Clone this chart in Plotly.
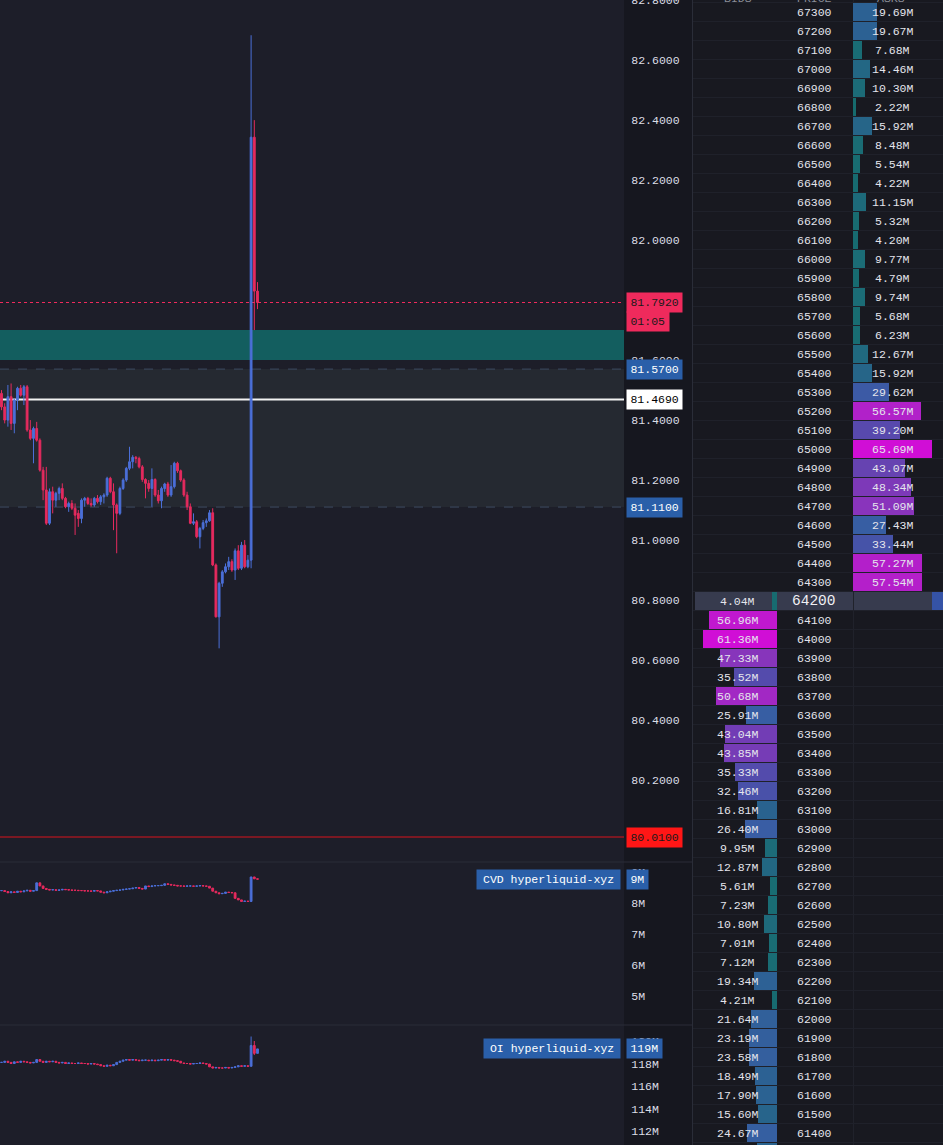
import plotly.graph_objects as go

W, H = 943, 1145
MONO = "Liberation Mono"

# ---------------- main price candles ----------------
price_open = [81.489, 81.444, 81.400, 81.478, 81.389, 81.467, 81.506, 81.483, 81.511, 81.367,
              81.339, 81.372, 81.333, 81.233, 81.167, 81.056, 81.161, 81.133, 81.156, 81.172,
              81.139, 81.111, 81.122, 81.106, 81.089, 81.072, 81.133, 81.139, 81.122, 81.117,
              81.139, 81.128, 81.144, 81.150, 81.206, 81.161, 81.117, 81.089, 81.172, 81.200,
              81.239, 81.261, 81.276, 81.272, 81.244, 81.202, 81.189, 81.172, 81.202, 81.150,
              81.131, 81.172, 81.187, 81.150, 81.178, 81.256, 81.231, 81.200, 81.150, 81.111,
              81.056, 81.061, 81.011, 81.039, 81.058, 81.064, 81.091, 80.917, 80.744,
              80.856, 80.894, 80.911, 80.928, 80.900, 80.964, 80.906, 80.983, 80.911,
              80.933, 82.343, 81.830]
price_high = [81.500, 81.456, 81.517, 81.522, 81.472, 81.511, 81.517, 81.517, 81.517, 81.400,
              81.378, 81.394, 81.339, 81.244, 81.244, 81.172, 81.178, 81.161, 81.178, 81.189,
              81.144, 81.128, 81.133, 81.122, 81.100, 81.139, 81.144, 81.144, 81.139, 81.144,
              81.150, 81.150, 81.156, 81.211, 81.211, 81.189, 81.122, 81.178, 81.206, 81.244,
              81.311, 81.283, 81.280, 81.278, 81.250, 81.206, 81.200, 81.239, 81.206, 81.167,
              81.178, 81.191, 81.194, 81.250, 81.261, 81.261, 81.235, 81.206, 81.161, 81.122,
              81.089, 81.067, 81.044, 81.067, 81.072, 81.100, 81.106, 80.922, 80.861,
              80.900, 80.922, 80.944, 80.936, 80.972, 80.983, 80.994, 81.000, 80.950,
              82.683, 82.400, 81.860]
price_low = [81.433, 81.389, 81.378, 81.367, 81.356, 81.433, 81.478, 81.450, 81.361, 81.333,
             81.256, 81.328, 81.228, 81.133, 81.050, 81.050, 81.089, 81.111, 81.133, 81.133,
             81.106, 81.094, 81.100, 81.017, 81.044, 81.056, 81.111, 81.117, 81.111, 81.111,
             81.122, 81.117, 81.122, 81.144, 81.156, 81.033, 80.956, 81.083, 81.167, 81.194,
             81.233, 81.239, 81.256, 81.239, 81.194, 81.139, 81.161, 81.111, 81.144, 81.122,
             81.106, 81.161, 81.144, 81.144, 81.172, 81.224, 81.194, 81.144, 81.100, 81.053,
             81.050, 81.006, 80.972, 81.033, 81.044, 81.061, 80.913, 80.742, 80.639,
             80.844, 80.889, 80.900, 80.894, 80.867, 80.900, 80.900, 80.906, 80.906,
             80.906, 81.700, 81.770]
price_close = [81.444, 81.400, 81.478, 81.389, 81.467, 81.506, 81.483, 81.511, 81.367, 81.339,
               81.372, 81.333, 81.233, 81.167, 81.056, 81.161, 81.133, 81.156, 81.172, 81.139,
               81.111, 81.122, 81.106, 81.083, 81.072, 81.133, 81.139, 81.122, 81.117, 81.139,
               81.128, 81.144, 81.150, 81.206, 81.161, 81.117, 81.089, 81.172, 81.200, 81.239,
               81.261, 81.276, 81.272, 81.244, 81.202, 81.189, 81.172, 81.202, 81.150, 81.131,
               81.172, 81.187, 81.150, 81.178, 81.256, 81.231, 81.200, 81.150, 81.111, 81.056,
               81.061, 81.011, 81.039, 81.058, 81.064, 81.091, 80.917, 80.744, 80.856,
               80.894, 80.911, 80.928, 80.900, 80.964, 80.906, 80.983, 80.911, 80.933,
               82.343, 81.830, 81.792]

# ---------------- CVD / OI (millions) ----------------
cvd_close = [8.40, 8.37, 8.33, 8.36, 8.34, 8.38, 8.36, 8.39, 8.41, 8.38, 8.40,
             8.65, 8.55, 8.47,
             8.44, 8.42, 8.43, 8.41, 8.42, 8.44, 8.43, 8.42, 8.41, 8.41, 8.40, 8.40, 8.39, 8.39, 8.38, 8.40, 8.39,
             8.35, 8.33, 8.36,
             8.38, 8.40, 8.41, 8.42, 8.44, 8.45, 8.46, 8.48, 8.50, 8.47,
             8.45, 8.55, 8.53,
             8.55, 8.56, 8.56, 8.57, 8.62, 8.60, 8.58, 8.57, 8.55, 8.55, 8.54, 8.55, 8.55, 8.54, 8.55, 8.56, 8.55, 8.54,
             8.48, 8.38, 8.33,
             8.30, 8.31, 8.35, 8.34, 8.33,
             8.15, 8.10, 8.05, 8.06, 8.05,
             8.84, 8.78, 8.77]
oi_close = [118.10, 118.20, 118.10, 118.00, 118.15, 118.10, 118.20, 118.15, 118.10, 118.05,
            118.10, 118.35, 118.20, 118.10, 118.20, 118.15, 118.20, 118.10, 118.05, 118.10,
            118.00, 118.05, 118.00, 118.00, 118.05, 118.00, 118.00, 117.95, 118.00, 117.95,
            117.90, 117.80, 117.75, 117.85, 117.80, 117.90,
            118.10, 118.20, 118.30, 118.35, 118.30, 118.35, 118.30, 118.25, 118.30, 118.30,
            118.25, 118.30, 118.25, 118.30, 118.35, 118.30, 118.35, 118.30, 118.25, 118.20,
            118.05, 118.00, 118.00, 117.95, 118.00, 118.00, 118.05, 118.00, 117.95,
            117.70, 117.60, 117.65, 117.60, 117.60, 117.65, 117.60, 117.65, 117.70, 117.80, 117.75, 117.80, 117.75,
            119.60, 118.90, 119.30]
oi_wicks = {78: (120.40, 117.75), 79: (120.00, 118.75)}

price_ticks = [80.0, 80.2, 80.4, 80.6, 80.8, 81.0, 81.2, 81.4, 81.6, 81.8, 82.0, 82.2, 82.4, 82.6, 82.8]
cvd_ticks = [5, 6, 7, 8, 9]
oi_ticks = [112, 114, 116, 118, 120]

teal_zone = (81.60, 81.70)
value_area = (81.11, 81.57)
poc_price = 81.469
stop_price = 80.01
countdown = "01:05"
cvd_name = "CVD hyperliquid-xyz"
oi_name = "OI hyperliquid-xyz"

# ---------------- order book ----------------
ask_prices = [67300, 67200, 67100, 67000, 66900, 66800, 66700, 66600, 66500, 66400, 66300,
              66200, 66100, 66000, 65900, 65800, 65700, 65600, 65500, 65400, 65300, 65200,
              65100, 65000, 64900, 64800, 64700, 64600, 64500, 64400, 64300]
ask_sizes = [19.69, 19.67, 7.68, 14.46, 10.30, 2.22, 15.92, 8.48, 5.54, 4.22, 11.15,
             5.32, 4.20, 9.77, 4.79, 9.74, 5.68, 6.23, 12.67, 15.92, 29.62, 56.57,
             39.20, 65.69, 43.07, 48.34, 51.09, 27.43, 33.44, 57.27, 57.54]
mid_price = 64200
mid_bid_size = 4.04
bid_prices = [64100, 64000, 63900, 63800, 63700, 63600, 63500, 63400, 63300, 63200,
              63100, 63000, 62900, 62800, 62700, 62600, 62500, 62400, 62300, 62200,
              62100, 62000, 61900, 61800, 61700, 61600, 61500, 61400, 61300]
bid_sizes = [56.96, 61.36, 47.33, 35.52, 50.68, 25.91, 43.04, 43.85, 35.33, 32.46,
             16.81, 26.40, 9.95, 12.87, 5.61, 7.23, 10.80, 7.01, 7.12, 19.34,
             4.21, 21.64, 23.19, 23.58, 18.49, 17.90, 15.60, 24.67, 16.50]
book_headers = ["BIDS", "PRICE", "ASKS"]

# ---------------- styling ----------------
UP = "#4b6fd8"
DOWN = "#e52a5e"
BG_MAIN = "#1d1e29"
BG_AXIS = "#16171f"
BG_BOOK = "#181920"
SEP = "#2a2d38"
TXT = "#dcdee6"
RED_LBL = "#ef2a5c"
BLUE_LBL = "#2a5fa9"

MAIN_R, BOOK_L, MAIN_BOTTOM, CVD_BOTTOM = 624, 693, 862, 1025
STEP_PX, FIRST_PX = 3.2, 1.5
PPX = 300.0           # pixels per price unit
BOOK_ZERO, BOOK_SCALE = 853, 1.2   # ask bars start (px), px per 1M
BID_EDGE = 777
ROW_PX = 19
TOP_ROW_PX = 12


def paper_y(px):
    return 1 - px / H


def paper_x(px):
    return px / W


def book_v(px):
    return (px - BOOK_ZERO) / BOOK_SCALE


stops = [(0.0, (20, 107, 107)), (0.15, (27, 108, 118)), (0.28, (42, 98, 144)), (0.42, (55, 94, 163)),
         (0.55, (77, 78, 170)), (0.68, (108, 64, 179)), (0.78, (138, 52, 188)), (0.85, (174, 34, 200)),
         (1.0, (208, 14, 214))]


def size_color(t):
    t = max(0.0, min(1.0, t))
    for (a, ca), (b, cb) in zip(stops[:-1], stops[1:]):
        if t <= b:
            f = (t - a) / (b - a)
            c = [round(ca[k] + (cb[k] - ca[k]) * f) for k in range(3)]
            return "rgb(%d,%d,%d)" % tuple(c)
    return "rgb(%d,%d,%d)" % stops[-1][1]


n = len(price_close)
xs = list(range(n))
x_range = [-FIRST_PX / STEP_PX, (MAIN_R - FIRST_PX) / STEP_PX]

fig = go.Figure()

candle_style = dict(increasing=dict(line=dict(color=UP, width=1), fillcolor=UP),
                    decreasing=dict(line=dict(color=DOWN, width=1), fillcolor=DOWN),
                    whiskerwidth=0, showlegend=False, hoverinfo="skip")

fig.add_trace(go.Candlestick(x=xs, open=price_open, high=price_high, low=price_low, close=price_close,
                             xaxis="x", yaxis="y", **candle_style))

cvd_open = [cvd_close[0]] + cvd_close[:-1]
fig.add_trace(go.Candlestick(x=xs, open=cvd_open,
                             high=[max(a, b) for a, b in zip(cvd_open, cvd_close)],
                             low=[min(a, b) for a, b in zip(cvd_open, cvd_close)],
                             close=cvd_close, xaxis="x2", yaxis="y2", **candle_style))

oi_open = [oi_close[0]] + oi_close[:-1]
oi_high = [max(a, b) for a, b in zip(oi_open, oi_close)]
oi_low = [min(a, b) for a, b in zip(oi_open, oi_close)]
for k, (hh, ll) in oi_wicks.items():
    oi_high[k], oi_low[k] = hh, ll
fig.add_trace(go.Candlestick(x=xs, open=oi_open, high=oi_high, low=oi_low, close=oi_close,
                             xaxis="x3", yaxis="y3", **candle_style))

# order book bars
ask_max, bid_max = max(ask_sizes), max(bid_sizes)
fig.add_trace(go.Bar(x=ask_sizes, y=ask_prices, base=0, orientation="h", width=90,
                     marker=dict(color=[size_color(s / ask_max) for s in ask_sizes], line=dict(width=0)),
                     xaxis="x4", yaxis="y4", showlegend=False, hoverinfo="skip"))
fig.add_trace(go.Bar(x=[-s for s in bid_sizes] + [-mid_bid_size], y=bid_prices + [mid_price],
                     base=book_v(BID_EDGE), orientation="h", width=90,
                     marker=dict(color=[size_color(s / bid_max) for s in bid_sizes] + [size_color(mid_bid_size / bid_max)],
                                 line=dict(width=0)),
                     xaxis="x4", yaxis="y4", showlegend=False, hoverinfo="skip"))

main_range = [82.8 - MAIN_BOTTOM / PPX, 82.8005]
cvd_range = [9 - (CVD_BOTTOM - 872) / 31.0, 9 + 10 / 31.0]
oi_range = [120 - (H - 1041) / 11.25, 120 + 16 / 11.25]
book_range = [ask_prices[0] - (H - TOP_ROW_PX) / ROW_PX * 100, ask_prices[0] + TOP_ROW_PX / ROW_PX * 100]

tickfont = dict(family=MONO, size=11.5, color=TXT)
hidden_x = dict(showticklabels=False, showgrid=False, zeroline=False, showline=False,
                range=x_range, domain=[0, paper_x(MAIN_R)], rangeslider=dict(visible=False), automargin=False)
yax_common = dict(side="right", showgrid=False, zeroline=False, showline=False, ticks="outside",
                  ticklen=4, tickcolor="rgba(0,0,0,0)", tickfont=tickfont, automargin=False,
                  ticklabeloverflow="allow")

shapes = [
    dict(type="rect", xref="paper", yref="paper", x0=0, x1=paper_x(MAIN_R), y0=0, y1=1,
         fillcolor=BG_MAIN, line=dict(width=0), layer="below"),
    dict(type="rect", xref="paper", yref="paper", x0=paper_x(BOOK_L), x1=1, y0=0, y1=1,
         fillcolor=BG_BOOK, line=dict(width=0), layer="below"),
    dict(type="rect", xref="paper", yref="y", x0=0, x1=paper_x(MAIN_R), y0=value_area[0], y1=value_area[1],
         fillcolor="#252931", line=dict(width=0), layer="below"),
    dict(type="rect", xref="paper", yref="y", x0=0, x1=paper_x(MAIN_R), y0=teal_zone[0], y1=teal_zone[1],
         fillcolor="#135e5f", line=dict(width=0), layer="below"),
    dict(type="line", xref="paper", yref="y", x0=0, x1=paper_x(MAIN_R), y0=value_area[1], y1=value_area[1],
         line=dict(color="#3d4b62", width=1, dash="dash"), layer="below"),
    dict(type="line", xref="paper", yref="y", x0=0, x1=paper_x(MAIN_R), y0=value_area[0], y1=value_area[0],
         line=dict(color="#3d4b62", width=1, dash="dash"), layer="below"),
    dict(type="line", xref="paper", yref="y", x0=0, x1=paper_x(MAIN_R), y0=poc_price, y1=poc_price,
         line=dict(color="#f2f2f2", width=2), layer="below"),
    dict(type="line", xref="paper", yref="y", x0=0, x1=paper_x(MAIN_R), y0=price_close[-1], y1=price_close[-1],
         line=dict(color=RED_LBL, width=1, dash="dot"), layer="below"),
    dict(type="line", xref="paper", yref="y", x0=0, x1=paper_x(MAIN_R), y0=stop_price, y1=stop_price,
         line=dict(color="#d9121c", width=1), layer="below"),
    # separators
    dict(type="line", xref="paper", yref="paper", x0=0, x1=paper_x(692), y0=paper_y(MAIN_BOTTOM), y1=paper_y(MAIN_BOTTOM),
         line=dict(color=SEP, width=1)),
    dict(type="line", xref="paper", yref="paper", x0=0, x1=paper_x(692), y0=paper_y(CVD_BOTTOM), y1=paper_y(CVD_BOTTOM),
         line=dict(color=SEP, width=1)),
    dict(type="line", xref="paper", yref="paper", x0=paper_x(692.5), x1=paper_x(692.5), y0=0, y1=1,
         line=dict(color=SEP, width=1)),
    # order book mid row highlight
    dict(type="rect", xref="paper", yref="y4", x0=paper_x(695), x1=paper_x(932), y0=mid_price - 50, y1=mid_price + 50,
         fillcolor="#373b4e", line=dict(width=0), layer="below"),
    dict(type="rect", xref="paper", yref="y4", x0=paper_x(932), x1=1, y0=mid_price - 50, y1=mid_price + 50,
         fillcolor="#3553a6", line=dict(width=0), layer="below"),
]

annotations = []


def axis_label(y, text, bg, fg, yref="y", width=None):
    annotations.append(dict(xref="paper", x=paper_x(626), xanchor="left", yref=yref, y=y, yanchor="middle",
                            text=text, showarrow=False, bgcolor=bg, borderpad=2,
                            width=width if width else len(text) * 6.9 + 3, height=15,
                            font=dict(family=MONO, size=11.5, color=fg)))


last = price_close[-1]
axis_label(last, f"{last:.4f}", RED_LBL, "#1a1a1a")
axis_label(last - ROW_PX / PPX, countdown, RED_LBL, "#1a1a1a")
axis_label(value_area[1], f"{value_area[1]:.4f}", BLUE_LBL, "#ffffff")
axis_label(poc_price, f"{poc_price:.4f}", "#ffffff", "#000000")
axis_label(value_area[0], f"{value_area[0]:.4f}", BLUE_LBL, "#ffffff")
axis_label(stop_price, f"{stop_price:.4f}", "#ff1616", "#1a1a1a")
axis_label(cvd_close[-1], f"{round(cvd_close[-1])}M", BLUE_LBL, "#ffffff", yref="y2")
axis_label(oi_close[-1], f"{round(oi_close[-1])}M", BLUE_LBL, "#ffffff", yref="y3")

for name, val, yref in [(cvd_name, cvd_close[-1], "y2"), (oi_name, oi_close[-1], "y3")]:
    annotations.append(dict(xref="paper", x=paper_x(621), xanchor="right", yref=yref, y=val, yanchor="middle",
                            text=name, showarrow=False, bgcolor=BLUE_LBL, borderpad=2,
                            width=len(name) * 6.9 + 8, height=15,
                            font=dict(family=MONO, size=11.5, color="#ffffff")))

BOOK_TXT = "#e4e5ec"
ASK_TX, BID_TX, PRICE_TX = book_v(892.5), book_v(737.5), book_v(814.7)


def book_text(x, y, text, size=11.5, color=BOOK_TXT):
    annotations.append(dict(xref="x4", yref="y4", x=x, y=y, text=text, showarrow=False,
                            xanchor="center", yanchor="middle",
                            font=dict(family=MONO, size=size, color=color)))


for p, s in zip(ask_prices, ask_sizes):
    book_text(PRICE_TX, p, str(p))
    book_text(ASK_TX, p, f"{s:.2f}M")
book_text(book_v(814.2), mid_price, str(mid_price), size=14.5, color="#f0f0f4")
book_text(BID_TX, mid_price, f"{mid_bid_size:.2f}M")
for p, s in zip(bid_prices, bid_sizes):
    book_text(PRICE_TX, p, str(p))
    book_text(BID_TX, p, f"{s:.2f}M")

# column headers: sit just above the top edge, so only their lower part shows
for name, px in zip(book_headers, [737.5, 814.7, 890.5]):
    annotations.append(dict(xref="paper", yref="paper", x=paper_x(px), y=paper_y(-1), text=name,
                            showarrow=False, xanchor="center", yanchor="middle",
                            font=dict(family=MONO, size=11.5, color="#8a8d97")))

fig.update_layout(
    width=W, height=H, margin=dict(l=0, r=0, t=0, b=0),
    template="none", paper_bgcolor=BG_AXIS, plot_bgcolor="rgba(0,0,0,0)",
    showlegend=False, bargap=0, barmode="overlay", boxgap=0.2,
    font=dict(family=MONO, color=TXT),
    xaxis=dict(anchor="y", **hidden_x),
    xaxis2=dict(anchor="y2", matches="x", **hidden_x),
    xaxis3=dict(anchor="y3", matches="x", **hidden_x),
    yaxis=dict(anchor="x", domain=[paper_y(MAIN_BOTTOM), 1], range=main_range,
               tickvals=price_ticks, ticktext=[f"{t:.4f}" for t in price_ticks], **yax_common),
    yaxis2=dict(anchor="x2", domain=[paper_y(CVD_BOTTOM), paper_y(MAIN_BOTTOM)], range=cvd_range,
                tickvals=cvd_ticks, ticktext=[f"{t}M" for t in cvd_ticks], **yax_common),
    yaxis3=dict(anchor="x3", domain=[0, paper_y(CVD_BOTTOM)], range=oi_range,
                tickvals=oi_ticks, ticktext=[f"{t}M" for t in oi_ticks], **yax_common),
    xaxis4=dict(anchor="y4", domain=[paper_x(BOOK_L), 1], range=[book_v(BOOK_L), book_v(W)],
                showticklabels=False, zeroline=False, showline=False,
                showgrid=True, gridcolor="#20222b", tickvals=[0], automargin=False),
    yaxis4=dict(anchor="x4", domain=[0, 1], range=book_range, showticklabels=False, zeroline=False,
                showline=False, showgrid=True, gridcolor="#1f212a",
                tickvals=[p + 50 for p in ask_prices] + [mid_price + 50, mid_price - 50] + [p - 50 for p in bid_prices],
                automargin=False),
    shapes=shapes, annotations=annotations,
)

fig.write_html("out.html", config={"displayModeBar": False})
